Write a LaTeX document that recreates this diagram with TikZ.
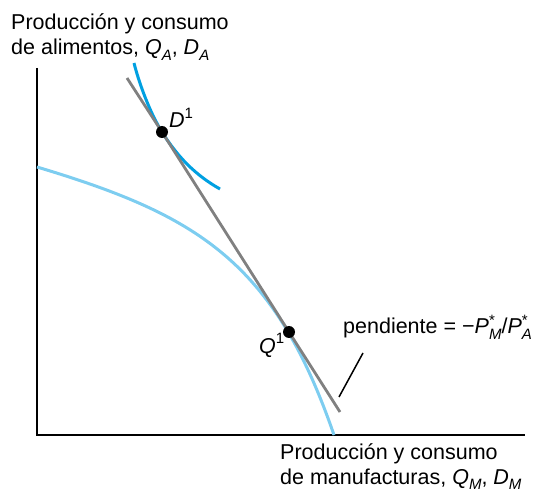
\documentclass[tikz,border=0pt]{standalone}
\usepackage{fontspec}
\setmainfont{Liberation Sans}
\definecolor{ppfblue}{RGB}{125,205,240}
\definecolor{icblue}{RGB}{0,160,225}
\definecolor{budgetgray}{RGB}{128,128,128}
\newcommand{\lowidx}[1]{\raisebox{-0.25em}{\fontsize{15}{15}\selectfont\textit{#1}}}
\newcommand{\upidx}[1]{\raisebox{0.45em}{\fontsize{15}{15}\selectfont #1}}
\newcommand{\pstar}[1]{\textit{P}\rlap{\raisebox{0.4em}{\fontsize{15}{15}\selectfont *}}\lowidx{#1}}
\begin{document}
\begin{tikzpicture}[x=1pt, y=-1pt, font=\fontsize{21.5}{25}\selectfont,
  every node/.style={inner sep=0pt},
  dot/.style={circle, fill=black, minimum size=12pt}]
	\useasboundingbox (0,0) rectangle (539,492);
	\draw[line width=2.5pt, line join=miter] (37,68) -- (37,435) -- (525,435);
	
	\draw[line width=3pt, ppfblue] (37,167) .. controls (197,215) and (274,261) .. (334,435);
	\draw[line width=3pt, icblue] (134,63) .. controls (139,83) and (150,113) .. (162,132)
		.. controls (177,156) and (195,175) .. (220,189);
	
	\coordinate (d1) at (162,132);
	\coordinate (q1) at (289,332);
	\draw[line width=2.8pt, budgetgray] (127,78) -- (d1) -- (q1) -- (340,412);
	\node[dot] (dotd) at (d1) {};
	\node[dot] (dotq) at (q1) {};
	
	\node[anchor=base west] (dlab) at (169,128) {\textit{D}\upidx{1}};
	\node[anchor=base west] (qlab) at (259,353) {\textit{Q}\upidx{1}};
	\node[anchor=base west] (slope) at (343,334) {pendiente = \textminus\pstar{M}/\pstar{A}};
	\coordinate (tip) at (339,397);
	\draw[line width=1.5pt] (tip) -- (363,353);
	
	\node[anchor=base west, align=left] (ylab) at (11,55) {Producción y consumo\\de alimentos, \textit{Q}\lowidx{A}, \textit{D}\lowidx{A}};
	\node[anchor=base west, align=left] (xlab) at (280,484) {Producción y consumo\\de manufacturas, \textit{Q}\lowidx{M}, \textit{D}\lowidx{M}};
\end{tikzpicture}
\end{document}
